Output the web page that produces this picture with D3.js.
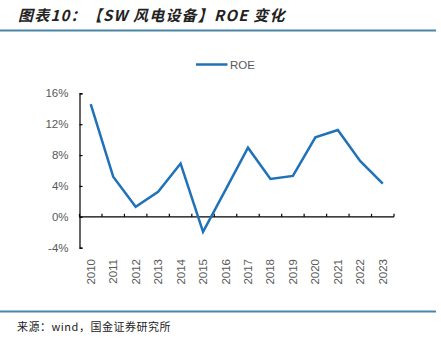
<!DOCTYPE html>
<html><head><meta charset="utf-8">
<script src="https://cdn.jsdelivr.net/npm/d3@7"></script>
<style>
html,body{margin:0;padding:0;background:#fff;}
svg{display:block;}
</style></head>
<body>
<svg id="c" width="441" height="340"></svg>
<script>
const years = ["2010","2011","2012","2013","2014","2015","2016","2017","2018","2019","2020","2021","2022","2023"];
const roe = [14.6, 5.2, 1.3, 3.25, 6.9, -1.95, 3.5, 8.95, 4.9, 5.3, 10.3, 11.25, 7.2, 4.3];
const yTicks = [-4, 0, 4, 8, 12, 16];
const seriesName = "ROE";
const titleText = "图表10：【SW 风电设备】ROE 变化";
const sourceText = "来源：wind，国金证券研究所";

const svg = d3.select("#c");
const pLeft = 79.5, pRight = 394, pTop = 93.3, pBottom = 247.7;
const x = d3.scaleBand().domain(years).range([pLeft, pRight]);
const y = d3.scaleLinear().domain([-4, 16]).range([pBottom, pTop]);
const gray = "#595959";
const font = "'Liberation Sans', Arial, sans-serif";

// header
svg.append("text").attr("x", 18).attr("y", 21)
  .attr("font-family", "'Noto Sans CJK SC', sans-serif").attr("font-size", 15)
  .attr("font-style", "italic").attr("font-weight", "bold").attr("fill", "#222")
  .attr("letter-spacing", 1.2)
  .text(titleText);
svg.append("line").attr("x1", 0).attr("x2", 436).attr("y1", 30.5).attr("y2", 30.5)
  .attr("stroke", "#4a86a8").attr("stroke-width", 2);

// footer
svg.append("line").attr("x1", 0).attr("x2", 436).attr("y1", 311.5).attr("y2", 311.5)
  .attr("stroke", "#4a86a8").attr("stroke-width", 2);
svg.append("text").attr("x", 17).attr("y", 331)
  .attr("font-family", "'Noto Sans CJK SC', sans-serif").attr("font-size", 11)
  .attr("letter-spacing", 0.5)
  .attr("fill", "#222").text(sourceText);

// legend
svg.append("line").attr("x1", 196).attr("x2", 227.5).attr("y1", 64.5).attr("y2", 64.5)
  .attr("stroke", "#1f72b8").attr("stroke-width", 2.5);
svg.append("text").attr("x", 230).attr("y", 68.5).attr("font-family", font)
  .attr("font-size", 11.5).attr("fill", gray).text(seriesName);

// y axis
const yAxis = d3.axisLeft(y).tickValues(yTicks).tickSize(-3).tickPadding(11)
  .tickFormat(d => d + "%");
const gy = svg.append("g").attr("transform", `translate(${pLeft},0)`).call(yAxis);
gy.select(".domain").attr("stroke", "#000").attr("stroke-width", 1.2);
gy.selectAll(".tick line").attr("stroke", "#000").attr("stroke-width", 1.2);
gy.selectAll("text").attr("font-family", font).attr("font-size", 11.5).attr("fill", gray);

// x axis at 0 with band boundary ticks pointing up
const gx = svg.append("g").attr("transform", `translate(0,${y(0)})`);
gx.append("line").attr("x1", pLeft).attr("x2", pRight).attr("stroke", "#000").attr("stroke-width", 1.2);
const bounds = years.map(d => x(d)).concat([pRight]);
gx.selectAll(".tk").data(bounds).enter().append("line")
  .attr("x1", d => d).attr("x2", d => d).attr("y1", 0).attr("y2", -3)
  .attr("stroke", "#000").attr("stroke-width", 1.2);

// x labels rotated
svg.append("g").selectAll("text").data(years).enter().append("text")
  .attr("transform", d => `translate(${x(d) + x.bandwidth()/2 + 4},${259}) rotate(-90)`)
  .attr("text-anchor", "end").attr("font-family", font).attr("font-size", 11.5)
  .attr("fill", gray).text(d => d);

// line
const line = d3.line().x((d, i) => x(years[i]) + x.bandwidth()/2).y(d => y(d));
svg.append("path").datum(roe).attr("d", line).attr("fill", "none")
  .attr("stroke", "#1f72b8").attr("stroke-width", 2.5).attr("stroke-linejoin", "miter");
</script>
</body></html>
